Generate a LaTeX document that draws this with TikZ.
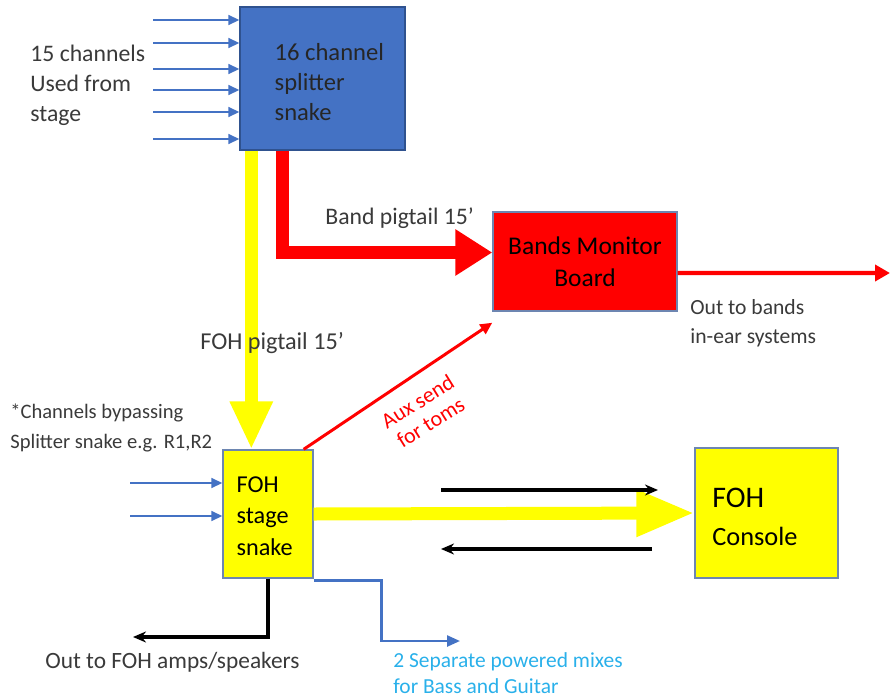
\documentclass[tikz,border=0pt]{standalone}
\usepackage{fontspec}
\setmainfont{Carlito}
\usepackage{tikz}
\usetikzlibrary{arrows.meta}

\definecolor{boxblue}{HTML}{4472C4}
\definecolor{edgeblue}{HTML}{2F528F}
\definecolor{pipered}{HTML}{FF0000}
\definecolor{pipeyellow}{HTML}{FFFF00}
\definecolor{textgrey}{HTML}{3A3A3A}
\definecolor{mixblue}{HTML}{29B0EA}

\begin{document}
\begin{tikzpicture}[x=0.02cm, y=-0.02cm,
    every node/.style={inner sep=0pt},
    box/.style={draw=edgeblue!70, line width=0.8pt},
    boxtext/.style={anchor=west, align=left, text=black},
    lbl/.style={align=left, text=textgrey, font=\fontsize{13.5}{17}\selectfont},
    feed/.style={draw=boxblue, line width=0.9pt, -{Triangle[length=0.22cm, width=0.2cm]}},
    yellowpipe/.style={draw=pipeyellow, line width=7.4pt, -{Triangle[length=0.96cm, width=0.8cm]}},
    redpipe/.style={draw=pipered, line width=7.4pt, -{Triangle[length=0.74cm, width=0.88cm]}},
    blackline/.style={draw=black, line width=2pt, -{Stealth[length=0.26cm, width=0.22cm]}}]
  \useasboundingbox (0,0) rectangle (890,697);

  % boxes
  \node[box, fill=boxblue, draw=edgeblue, minimum width=3.3cm, minimum height=2.86cm] (splitter) at (322.5,78.5) {};
  \node[box, fill=pipered, minimum width=3.68cm, minimum height=1.98cm, align=center,
        font=\fontsize{14.5}{18}\selectfont] (monitor) at (585,261.5) {Bands Monitor\\Board};
  \node[box, fill=pipeyellow, minimum width=1.8cm, minimum height=2.56cm] (fohsnake) at (268,514) {};
  \node[box, fill=pipeyellow, minimum width=2.86cm, minimum height=2.6cm] (console) at (766.5,513) {};

  \node[boxtext, text=black!85, font=\fontsize{14}{17}\selectfont] (splittxt)
    at ([xshift=0.7cm, yshift=-0.07cm]splitter.west) {16 channel\\splitter\\snake};
  \node[boxtext, font=\fontsize{13.8}{18}\selectfont] (fohsnaketxt)
    at ([xshift=0.28cm, yshift=-0.04cm]fohsnake.west) {FOH\\stage\\snake};
  \node[boxtext, anchor=base west, font=\fontsize{17}{20}\selectfont] (consoletxtA) at (712,507) {FOH};
  \node[boxtext, anchor=base west, font=\fontsize{15}{18}\selectfont] (consoletxtB) at (712,545) {Console};

  % inputs
  \foreach \y in {20,43,69,90,112,139} {
    \draw[feed] (153,\y) -- (splitter.west |- 0,\y);
  }
  \foreach \y in {483,516} {
    \draw[feed] (130,\y) -- (fohsnake.west |- 0,\y);
  }

  % pigtails
  \coordinate (ytop) at ([xshift=0.24cm]splitter.south west);
  \coordinate (rtop) at ([xshift=0.86cm]splitter.south west);
  \draw[yellowpipe] (ytop) -- (ytop |- fohsnake.north);
  \draw[redpipe] (rtop) |- ([yshift=0.18cm]monitor.west);
  \draw[yellowpipe, -{Triangle[length=1.16cm, width=0.88cm]}] (fohsnake.east) -- (console.west);

  % outputs
  \coordinate (inearend) at (890,273);
  \draw[draw=pipered, line width=2.3pt, -{Triangle[length=0.3cm, width=0.32cm]}]
    ([yshift=-0.23cm]monitor.east) -- (inearend);
  \coordinate (auxstart) at ([xshift=-0.2cm]fohsnake.north east);
  \coordinate (auxend) at ([yshift=-0.22cm]monitor.south west);
  \draw[draw=pipered, line width=1.7pt, -{Triangle[length=0.24cm, width=0.22cm]}] (auxstart) -- (auxend);

  \coordinate (fwdA) at (441,490);
  \coordinate (fwdB) at (658,490);
  \coordinate (backA) at (652,549);
  \coordinate (backB) at (441,549);
  \draw[blackline] (fwdA) -- (fwdB);
  \draw[blackline] (backA) -- (backB);

  \coordinate (ampsend) at (133,637);
  \draw[blackline] (fohsnake.south) |- (ampsend);
  \coordinate (mixend) at (460,641);
  \draw[draw=boxblue, line width=1.4pt, -{Triangle[length=0.26cm, width=0.22cm]}]
    ([yshift=-0.04cm]fohsnake.south east) -- ++(68,0) |- (mixend);

  % labels
  \node[lbl, anchor=west] (chanlbl) at (30,85) {15 channels\\Used from\\stage};
  \node[lbl, anchor=west] (bandlbl) at (325,218) {Band pigtail 15’};
  \node[lbl, anchor=west, font=\fontsize{13.8}{17}\selectfont] (fohlbl) at (200,343) {FOH pigtail 15’};
  \node[lbl, anchor=west, font=\fontsize{12.3}{16.5}\selectfont] (inearlbl) at (690,323.5) {Out to bands\\in-ear systems};
  \node[lbl, anchor=west, font=\fontsize{11.7}{17}\selectfont] (bypasslbl) at (10,428) {*Channels bypassing\\Splitter snake e.g. R1,R2};
  \node[lbl, anchor=west, font=\fontsize{13.3}{17}\selectfont] (ampslbl) at (45,662) {Out to FOH amps/speakers};
  \node[lbl, anchor=west, text=mixblue, font=\fontsize{12.2}{14.7}\selectfont] (mixlbl) at (393,673) {2 Separate powered mixes\\for Bass and Guitar};
  \node[lbl, align=center, text=pipered, rotate=32, font=\fontsize{12.5}{14}\selectfont] (auxlbl) at (424,412) {Aux send\\for toms};
\end{tikzpicture}
\end{document}
